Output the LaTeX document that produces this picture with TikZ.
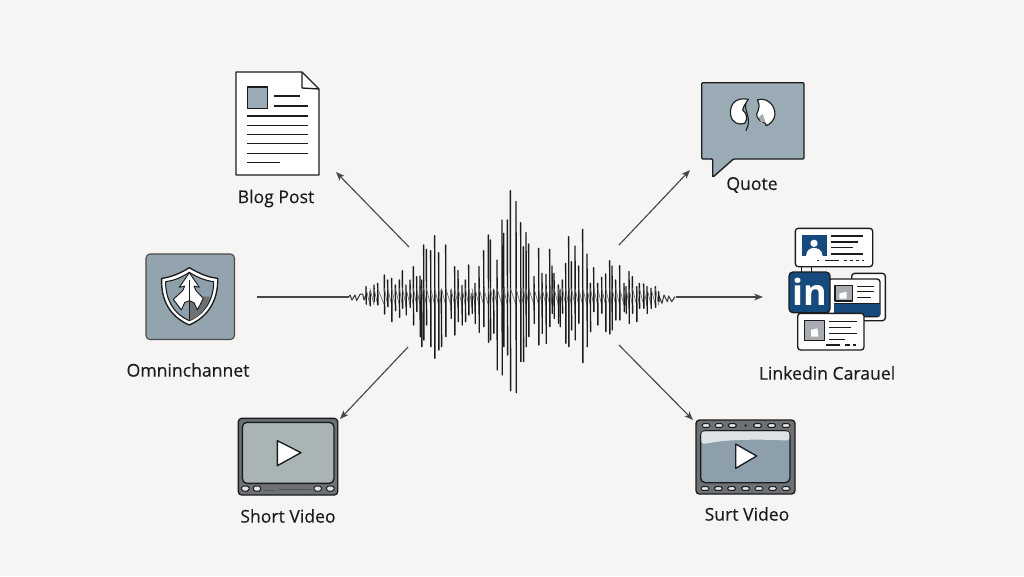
\documentclass[tikz,border=0pt]{standalone}
\usepackage{fontspec}
\setmainfont{Open Sans}
\newfontfamily\labfont[FakeBold=0.25]{Open Sans}
\usetikzlibrary{arrows.meta}
\definecolor{bgc}{HTML}{F6F5F3}
\definecolor{ink}{HTML}{1A1C1E}
\definecolor{slate}{HTML}{9AABB5}
\definecolor{slatedk}{HTML}{8D9FAA}
\definecolor{scr}{HTML}{A9B5B5}
\definecolor{frame}{HTML}{6E7174}
\definecolor{liblue}{HTML}{174A7C}
\definecolor{thumb}{HTML}{A6ACAF}
\definecolor{arr}{HTML}{45484A}
\tikzset{
  x=0.75pt,y=-0.75pt,
  zm/.style n args={2}{shift={(#1,#2)},x=0.25pt,y=-0.25pt},
  lab/.style={font=\labfont\fontsize{13.2}{15}\selectfont,text=ink,inner sep=0pt,anchor=center},
  ico/.style={draw=ink,line width=1pt,line join=round},
  txtl/.style={draw=ink,line width=.8pt},
  card/.style={ico,fill=white,rounded corners=2.2pt},
  conn/.style={draw=arr,line width=.85pt,-{Stealth[length=6.5pt,width=5pt,inset=1.6pt]}},
  plain/.style={draw=arr,line width=.85pt},
  spike/.style={draw=ink,line width=1.05pt,line cap=round},
  trace/.style={draw=ink!65,line width=.5pt},
  tail/.style={draw=ink!85,line width=.8pt,line join=round},
  sprk/.style={draw=ink,line width=.75pt,fill=white!90!black,rounded corners=1.2pt},
}
\begin{document}
\begin{tikzpicture}
\useasboundingbox (0,0) rectangle (1024,576);
\fill[bgc] (0,0) rectangle (1024,576);

% ---------- waveform
\begin{scope}[zm={340}{180}]
\draw[tail] plot[sharp plot] coordinates {(27,350)(30,345)(36,360)(45,345)(50,362)(60,343)(68,342)(72,360)(78,345)};
\draw[tail] plot[sharp plot] coordinates {(956,345)(966,370)(972,345)(982,365)(986,348)(995,365)(1005,350)};
\foreach \xx/\tp/\bt [remember=\xx as \px (initially 78)] in {
78/320/372,90/335/378,102/315/365,113/310/375,133/285/402,143/300/380,155/295/425,166/315/392,178/300/412,187/272/385,198/315/405,210/300/382,220/260/435,230/290/395,240/288/470,245/300/500,251/195/480,259/208/435,272/212/500,284/167/535,296/218/510,304/330/500,317/195/470,333/330/415,344/260/465,354/272/425,366/317/435,376/300/425,386/255/405,396/340/400,405/310/430,417/260/457,431/212/440,445/165/487,451/180/480,461/330/460,471/240/570,486/120/585,491/160/500,502/120/525,511/32/632,528/65/638,542/128/545,550/200/545,558/158/500,566/192/470,582/290/430,596/205/495,606/280/460,618/283/490,629/208/440,636/258/400,642/280/415,655/315/430,660/330/440,667/300/400,677/250/490,686/170/500,694/245/450,705/198/480,716/258/430,728/148/548,741/222/500,751/310/455,761/263/395,773/310/435,785/292/400,797/282/455,809/242/462,816/258/450,827/300/420,839/257/420,852/310/395,858/320/400,867/275/430,877/290/400,890/320/425,898/310/385,911/312/385,921/320/400,933/325/385,946/320/382,956/335/365}
{
  \draw[trace] (\px,325) -- (\xx,375);
  \draw[spike] (\xx,\tp) -- (\xx+.8,\bt);
}
\end{scope}

% ---------- connector ends
\coordinate (hubBlog) at (409,247);
\coordinate (hubQuote) at (619,245);
\coordinate (hubOmni) at (349,297);
\coordinate (hubLink) at (676,297);
\coordinate (hubShort) at (408,347);
\coordinate (hubSurt) at (619,345);
\coordinate (endBlog) at (336,172);
\coordinate (endQuote) at (690,170);
\coordinate (endOmni) at (257,297);
\coordinate (endLink) at (763,297);
\coordinate (endShort) at (340,419);
\coordinate (endSurt) at (693,420);
\draw[conn] (hubBlog) -- (endBlog);
\draw[conn] (hubQuote) -- (endQuote);
\draw[plain] (endOmni) -- (hubOmni);
\draw[conn] (hubLink) -- (endLink);
\draw[conn] (hubShort) -- (endShort);
\draw[conn] (hubSurt) -- (endSurt);

% ---------- blog post
\draw[ico,fill=white] (236,72) -- (302,72) -- (319,89) -- (319,175) -- (236,175) -- cycle;
\draw[ico] (302,72) -- (302,88) -- (319,89);
\draw[ico,fill=slate] (247.5,87) rectangle (267.5,108.5);
\foreach \yy/\xa/\xb in {96/274/300,106/274/308,116/247/308,125.3/247/308,134.3/247/308,143.7/247/308,153.3/247/308,162.7/247/280}
  \draw[txtl] (\xa,\yy) -- (\xb,\yy);
\node[lab] (lblog) at (276,198.5) {Blog Post};

% ---------- omnichannel
\draw[draw=ink!80,line width=.8pt,fill=slatedk!95!white,rounded corners=3pt] (146,254) rectangle (234.5,339.5);
\begin{scope}[zm={120}{50}]
\draw[ico,fill=white] (208,653) .. controls (240,672) and (265,682) .. (293,685) .. controls (295,750) and (265,800) .. (208,825) .. controls (150,800) and (122,750) .. (125,685) .. controls (150,682) and (178,672) .. (208,653) -- cycle;
\draw[ico,fill=slatedk,line width=.8pt] (208,667) .. controls (235,684) and (258,692) .. (281,695) .. controls (281,745) and (258,790) .. (208,812) .. controls (158,790) and (136,745) .. (137,695) .. controls (160,692) and (182,684) .. (208,667) -- cycle;
\fill[frame] (208,740) -- (270,740) .. controls (262,775) and (240,798) .. (208,812) -- cycle;
\draw[ico,fill=white,line width=.7pt] (208,668) -- (238,712) -- (222,708) -- (228,722) -- (250,745) -- (232,780) -- (222,758) -- (208,752) -- (194,758) -- (184,780) -- (160,748) -- (188,722) -- (194,708) -- (178,712) -- cycle;
\draw[ico,line width=.7pt] (208,690) -- (208,812);
\end{scope}
\node[lab] (lomni) at (188,370) {Omninchannet};

% ---------- short video
\begin{scope}[zm={220}{400}]
\draw[ico,fill=frame,rounded corners=2.5pt] (55,55) rectangle (353,285);
\draw[ico,fill=scr,rounded corners=3.5pt] (67,67) rectangle (342,250);
\draw[ico,fill=white] (172,122) -- (243,158) -- (172,197) -- cycle;
\foreach \xa in {65,100,282,320}
  \draw[sprk] (\xa,258) rectangle ++(22,15);
\draw[txtl,draw=ink!75] (135,271) -- (162,271);
\draw[txtl,draw=ink!75] (178,269) -- (272,269);
\end{scope}
\node[lab] (lshort) at (288,516) {Short Video};

% ---------- quote
\draw[ico,fill=slate,rounded corners=.8pt] (701.7,82.7) -- (804,82.7) -- (804,159) -- (733.5,159) -- (712.7,177.3) -- (712.7,159) -- (701.7,159) -- cycle;
\begin{scope}[zm={680}{60}]
\draw[ico,fill=white,line width=.85pt] (205,118) .. controls (165,110) and (148,135) .. (152,165) .. controls (155,187) and (175,197) .. (194,190) .. controls (205,175) and (200,160) .. (188,150) .. controls (190,140) and (198,128) .. (205,118) -- cycle;
\draw[ico,line width=.85pt] (198,130) .. controls (190,150) and (218,175) .. (198,212);
\draw[ico,fill=white,line width=.85pt] (232,120) .. controls (260,110) and (285,135) .. (285,162) .. controls (285,180) and (268,195) .. (258,197) .. controls (262,185) and (240,190) .. (232,172) .. controls (222,160) and (248,148) .. (232,120) -- cycle;
\fill[thumb] (236,172) -- (248,162) -- (256,184) -- (244,188) -- cycle;
\end{scope}
\node[lab] (lquote) at (752,185) {Quote};

% ---------- linkedin carousel
\begin{scope}[zm={680}{60}]
\draw[ico,line width=.8pt] (365,618) -- (365,640) (395,618) -- (395,640);
\draw[card] (346,505) rectangle (578,620);
\fill[liblue] (366,525) rectangle (440,588);
\fill[white] (402,550) circle[radius=11];
\fill[white] (378,588) .. controls (380,568) and (392,564) .. (402,564) .. controls (412,564) and (426,568) .. (428,588) -- cycle;
\foreach \yy/\xa/\xb in {528/452/550,546/452/535,562/452/520,582/452/548}
  \draw[txtl] (\xa,\yy) -- (\xb,\yy);
\draw[txtl] (436,602) -- (478,602);
\draw[ink,line width=1pt,dash pattern=on 2pt off 2.5pt] (410,602) -- (428,602);
\draw[ink,line width=1pt,dash pattern=on 2pt off 2.5pt] (492,602) -- (552,602);
\draw[card] (515,640) rectangle (616,782);
\draw[card] (445,657) rectangle (600,770);
\fill[liblue] (462,730) rectangle (600,768);
\draw[ico,line width=.8pt] (462,730) -- (600,730);
\draw[ico,fill=thumb,line width=.8pt] (465,677) rectangle (517,723);
\fill[white] (478,716) -- (478,700) -- (500,695) -- (500,716) -- cycle;
\foreach \yy/\xb in {680/582,695/582,712/572}
  \draw[txtl] (532,\yy) -- (\xb,\yy);
\draw[ico,fill=liblue,rounded corners=3pt] (327,636) rectangle (450,758);
\node[font=\fontsize{27}{27}\selectfont\bfseries,text=white,inner sep=0pt] (linicon) at (388,694) {in};
\draw[card] (353,760) rectangle (552,870);
\draw[ico,fill=thumb,line width=.8pt] (373,782) rectangle (433,842);
\fill[white] (393,830) -- (393,810) -- (412,805) -- (415,830) -- cycle;
\foreach \yy/\xb in {785/530,802/512,820/530,838/495}
  \draw[txtl] (447,\yy) -- (\xb,\yy);
\draw[txtl] (437,855) -- (480,855) (495,855) -- (510,855) (520,855) -- (527,855);
\end{scope}
\node[lab] (llink) at (827,373) {Linkedin Carauel};

% ---------- surt video
\begin{scope}[zm={680}{400}]
\draw[ico,fill=frame,rounded corners=2.5pt] (48,60) rectangle (345,282);
\draw[ico,fill=slatedk,rounded corners=3.5pt] (62,92) rectangle (330,248);
\fill[white!70!slatedk,rounded corners=2pt] (64,94) -- (328,94) -- (328,122) .. controls (260,118) and (180,118) .. (120,124) .. controls (95,128) and (80,130) .. (64,132) -- cycle;
\draw[ico,fill=white] (167,132) -- (230,168) -- (167,205) -- cycle;
\foreach \xc in {78,117,157,233,275,318}
  \draw[sprk] (\xc-12,71) rectangle (\xc+12,82);
\fill[ink] (197,76.5) circle[radius=4];
\foreach \xc in {75,115,155,197,237,278,318}
  \draw[sprk] (\xc-12,260) rectangle (\xc+12,271);
\end{scope}
\node[lab] (lsurt) at (747,514) {Surt Video};
\end{tikzpicture}
\end{document}
